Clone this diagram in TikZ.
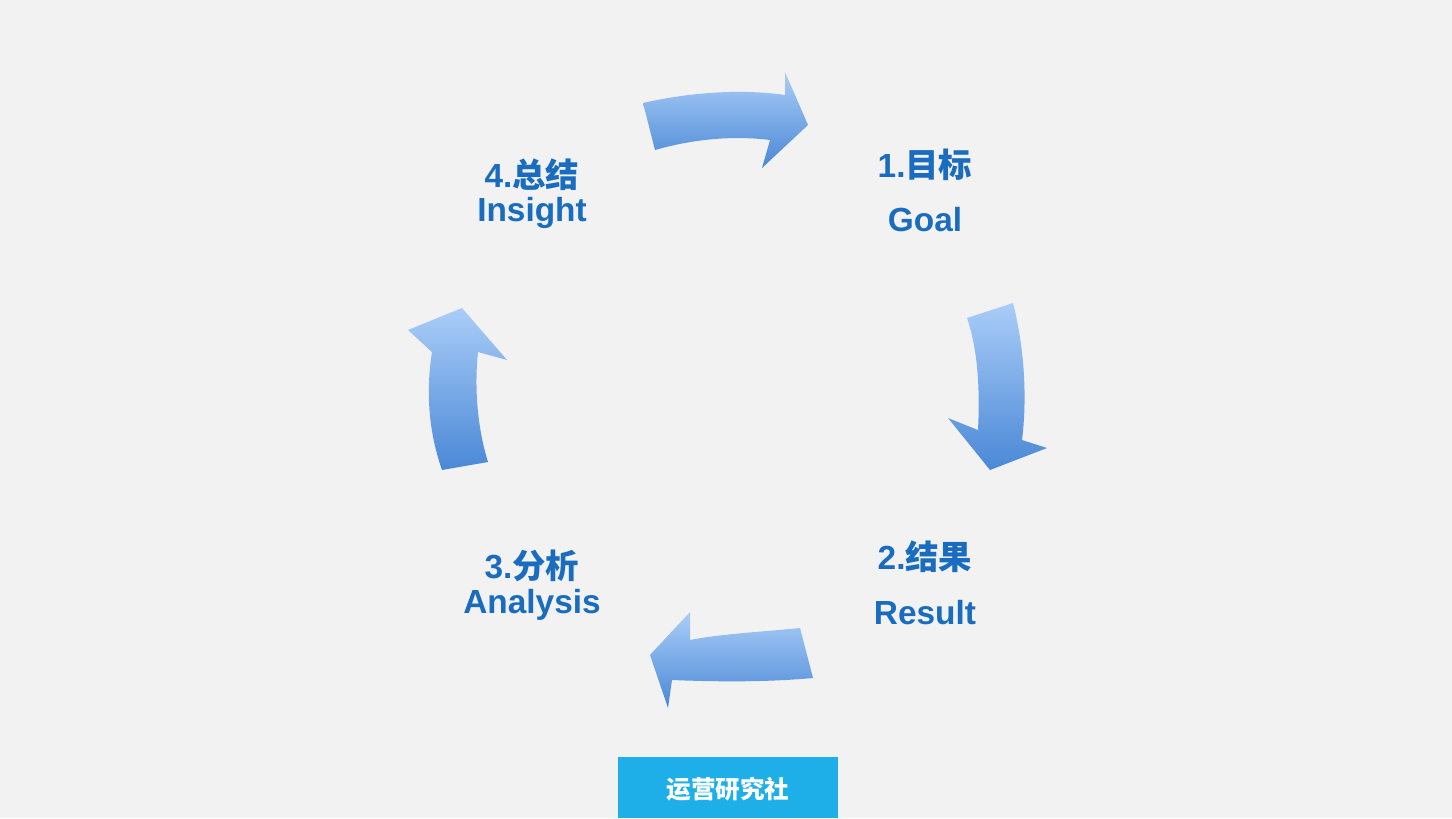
\documentclass[tikz,border=0pt]{standalone}
\usepackage{fontspec}
\setmainfont{Liberation Sans}
\newfontfamily\cjk{Noto Sans CJK SC}
\definecolor{bgcol}{HTML}{F2F2F2}
\definecolor{txtblue}{HTML}{1A6DBE}
\definecolor{arlight}{HTML}{AACDF8}
\definecolor{ardark}{HTML}{4A88D6}
\definecolor{tagblue}{HTML}{1FAFE8}

\begin{document}
\begin{tikzpicture}[x = 0.01cm, y = -0.01cm,
	lbl/.style = {text = txtblue, font = \fontsize{9.5}{11}\selectfont\bfseries},
	arr/.style = {draw = none}]

	% Background

	\fill [bgcol] (0, 0) rectangle (1452, 818);
	\useasboundingbox (0, 0) rectangle (1452, 818);

	% Arrows

	\shade [arr, left color = arlight, right color = ardark, shading angle = 0]
		(643, 103) .. controls (700, 90) and (750, 90) .. (785, 95)
		-- (785, 72) -- (808, 125) -- (762, 168) -- (770, 140)
		.. controls (730, 135) and (690, 140) .. (655, 150) -- cycle;
	\shade [arr, top color = arlight, bottom color = ardark]
		(967, 318) -- (1013, 303) .. controls (1025, 350) and (1027, 400) .. (1022, 440)
		-- (1047, 448) -- (990, 470) -- (948, 418) -- (978, 430)
		.. controls (980, 390) and (978, 350) .. cycle;
	\shade [arr, top color = arlight, bottom color = ardark]
		(800, 628) .. controls (760, 632) and (720, 634) .. (690, 640)
		-- (690, 612) -- (650, 655) -- (668, 708) -- (672, 680)
		.. controls (720, 682) and (770, 682) .. (813, 678) -- cycle;
	\shade [arr, top color = arlight, bottom color = ardark]
		(442, 470) .. controls (428, 430) and (426, 390) .. (432, 352)
		-- (408, 330) -- (462, 308) -- (507, 360) -- (478, 352)
		.. controls (474, 390) and (478, 430) .. (488, 462) -- cycle;

	% Labels

	\node [lbl] (goalcn) at (925, 165) {1.{\cjk 目标}};
	\node [lbl] (goalen) at (925, 220) {Goal};
	\node [lbl] (rescn) at (925, 557) {2.{\cjk 结果}};
	\node [lbl] (resen) at (925, 613) {Result};
	\node [lbl] (anacn) at (532, 566) {3.{\cjk 分析}};
	\node [lbl] (anaen) at (532, 605) {Analysis};
	\node [lbl] (inscn) at (532, 175) {4.{\cjk 总结}};
	\node [lbl] (insen) at (532, 213) {Insight};

	% Tag

	\fill [tagblue] (618, 757) rectangle (838, 818);
	\node [text = white, font = \fontsize{7}{8}\selectfont\cjk\bfseries] (tag) at (728, 789) {运营研究社};

\end{tikzpicture}
\end{document}
